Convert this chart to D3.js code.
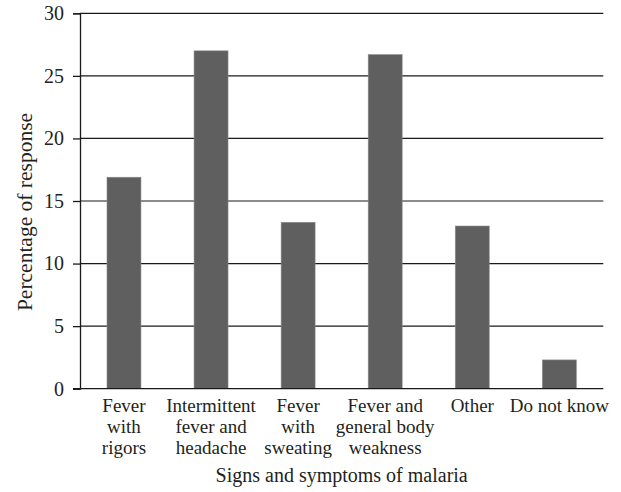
<!DOCTYPE html>
<html><head><meta charset="utf-8">
<script src="https://cdn.jsdelivr.net/npm/d3@7"></script>
<style>body{margin:0;background:#fff}svg{display:block}text{font-family:"Liberation Serif","Times New Roman",serif;fill:#231f20}</style>
</head><body><div id="chart"></div>
<script>
const categories = [["Fever","with","rigors"],["Intermittent","fever and","headache"],["Fever","with","sweating"],["Fever and","general body","weakness"],["Other"],["Do not know"]];
const values = [16.9, 27.0, 13.3, 26.7, 13.0, 2.3];
const yTicks = [0,5,10,15,20,25,30];
const yTitle = "Percentage of response";
const xTitle = "Signs and symptoms of malaria";

const W=621,H=492, L=80, R=603.3, T=13.3, B=388.7;
const svg=d3.select("#chart").append("svg").attr("width",W).attr("height",H);
const keys=categories.map((c,i)=>i);
const x=d3.scaleBand().domain(keys).range([L,R]).paddingInner(0.61).paddingOuter(0.31);
const y=d3.scaleLinear().domain([0,30]).range([B,T]);

// gridlines
svg.append("g").selectAll("line").data(yTicks.filter(d=>d>0)).join("line")
 .attr("x1",L).attr("x2",R).attr("y1",d=>y(d)).attr("y2",d=>y(d))
 .attr("stroke","#1a1a1a").attr("stroke-width",1.2);

// bars
svg.append("g").selectAll("rect").data(values).join("rect")
 .attr("x",(d,i)=>x(i)).attr("width",x.bandwidth())
 .attr("y",d=>y(d)).attr("height",d=>y(0)-y(d))
 .attr("fill","#5e5f5e").attr("stroke","#8a8a8a").attr("stroke-width",0.6);

// y axis
const ya=svg.append("g").attr("transform",`translate(${L},0)`)
 .call(d3.axisLeft(y).tickValues(yTicks).tickSize(7).tickPadding(9));
ya.select(".domain").attr("stroke","#1a1a1a").attr("stroke-width",1.3);
ya.selectAll(".tick line").attr("stroke","#1a1a1a").attr("stroke-width",1.3);
ya.selectAll(".tick text").attr("font-size",20).attr("font-family","Liberation Serif").attr("fill","#231f20");

// x axis line
svg.append("line").attr("x1",L-7).attr("x2",R).attr("y1",B).attr("y2",B).attr("stroke","#1a1a1a").attr("stroke-width",1.3);

// x labels
const xl=svg.append("g").selectAll("text").data(categories).join("text")
 .attr("text-anchor","middle").attr("font-size",19)
 .attr("transform",(d,i)=>`translate(${x(i)+x.bandwidth()/2},${412})`);
xl.selectAll("tspan").data(d=>d).join("tspan").attr("x",0).attr("y",(d,j)=>j*21).text(d=>d);

svg.append("text").attr("x",(L+R)/2).attr("y",482).attr("text-anchor","middle").attr("font-size",20).text(xTitle);
svg.append("text").attr("transform","translate(32,212) rotate(-90)").attr("text-anchor","middle").attr("font-size",21.5).text(yTitle);
</script></body></html>
